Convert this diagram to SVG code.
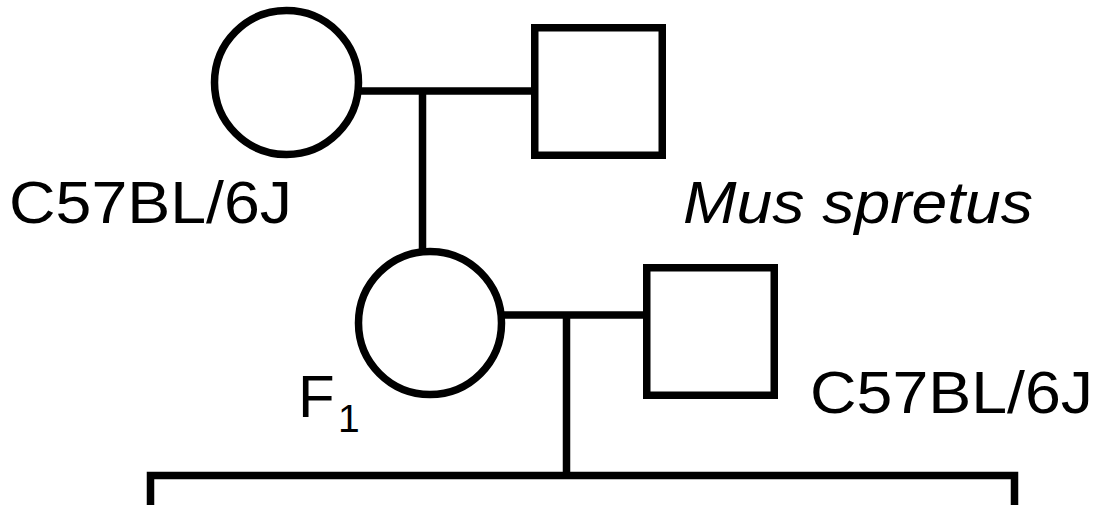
<svg xmlns="http://www.w3.org/2000/svg" width="1098" height="505" viewBox="0 0 1098 505">
  <style>
    .sym { fill: #fff; stroke: #000; stroke-width: 7.5; }
    .link { fill: none; stroke: #000; stroke-width: 7.5; }
    .lbl { font-family: "Liberation Sans", Arial, Helvetica, sans-serif; font-size: 60px; fill: #000; }
    .it { font-style: italic; }
    .sub { font-size: 39px; }
  </style>
  <rect width="1098" height="505" fill="#fff"/>

  <!-- mating and descent lines -->
  <g id="connectors">
    <path class="link" d="M358 91 H535"/>
    <path class="link" d="M422.5 91 V252"/>
    <path class="link" d="M502 315 H647"/>
    <path class="link" d="M566.5 315 V476"/>
    <path class="link" d="M150.5 505 V475.5 H1014.5 V505"/>
  </g>

  <!-- parental female -->
  <g id="p-female">
    <circle class="sym" cx="286.5" cy="82.5" r="72"/>
    <text class="lbl" x="9" y="223" textLength="283" lengthAdjust="spacingAndGlyphs">C57BL/6J</text>
  </g>

  <!-- parental male -->
  <g id="p-male">
    <rect class="sym" x="534.75" y="27.75" width="127.5" height="127.5"/>
    <text class="lbl it" x="683" y="223" textLength="350" lengthAdjust="spacingAndGlyphs">Mus spretus</text>
  </g>

  <!-- F1 female -->
  <g id="f1-female">
    <circle class="sym" cx="430" cy="323" r="71.5"/>
    <text class="lbl" x="298" y="417">F</text>
    <text class="lbl sub" x="338" y="432">1</text>
  </g>

  <!-- backcross male -->
  <g id="bc-male">
    <rect class="sym" x="646.75" y="267.75" width="127.5" height="127.5"/>
    <text class="lbl" x="810" y="413" textLength="283" lengthAdjust="spacingAndGlyphs">C57BL/6J</text>
  </g>
</svg>
